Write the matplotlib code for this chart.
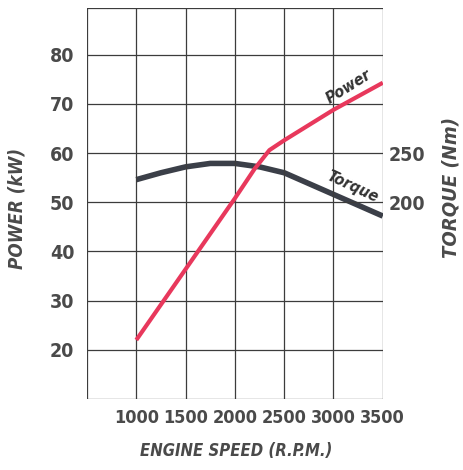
import matplotlib.pyplot as plt

# Engine curves
rpm_power = [1000, 1500, 2000, 2200, 2350, 2500, 3000, 3500]
power_kw = [22, 36.4, 50.8, 56.8, 60.6, 62.6, 68.8, 74.3]

rpm_torque = [1000, 1250, 1500, 1750, 2000, 2250, 2500, 2750, 3000, 3250, 3500]
torque_nm = [223, 230, 236, 239.5, 239.5, 236, 230, 219, 208, 197, 186]

x_ticks = [1000, 1500, 2000, 2500, 3000, 3500]
power_ticks = [20, 30, 40, 50, 60, 70, 80]
torque_ticks = [200, 250]

txt = '#4a4a4a'
grid_c = '#3c3c3c'
plt.rcParams['font.family'] = ['DejaVu Sans']
plt.rcParams['font.stretch'] = 'condensed'

fig = plt.figure(figsize=(4.64, 4.70), dpi=100)
ax = fig.add_axes([0.1875, 0.151, 0.6375, 0.832])
ax.set_xlim(500, 3500)
ax.set_ylim(10, 89.5)

# grid lines on every 500 rpm / 10 kW
for xv in [500] + x_ticks:
    ax.axvline(xv, color=grid_c, lw=0.9, zorder=1)
for yv in [10] + power_ticks + [89.5]:
    ax.axhline(yv, color=grid_c, lw=0.9, zorder=1)
for s in ax.spines.values():
    s.set_visible(False)

ax.set_xticks(x_ticks)
ax.set_yticks(power_ticks)
ax.tick_params(length=0, labelsize=14, labelcolor=txt, pad=9)
ax.tick_params(axis='x', labelsize=13, pad=7)
for lab in ax.get_xticklabels() + ax.get_yticklabels():
    lab.set_fontweight('bold')

# torque axis: 200 Nm lines up with 50 kW, 250 Nm with 60 kW
ax2 = ax.twinx()
ax2.set_ylim(0, 397.5)
ax2.set_yticks(torque_ticks)
ax2.tick_params(length=0, labelsize=14, labelcolor=txt, pad=4)
for lab in ax2.get_yticklabels():
    lab.set_fontweight('bold')
for s in ax2.spines.values():
    s.set_visible(False)

ax2.plot(rpm_torque, torque_nm, color='#3b3f48', lw=4, solid_capstyle='butt', zorder=3)
ax.plot(rpm_power, power_kw, color='#e8385c', lw=3, solid_capstyle='butt', zorder=4)
ax.set_zorder(ax2.get_zorder() + 1)
ax.patch.set_visible(False)

ax.text(3150, 73.4, 'Power', rotation=32, ha='center', va='center',
        fontsize=11.5, fontweight='bold', style='italic', color='#333333')
ax.text(3195, 53.2, 'Torque', rotation=-25, ha='center', va='center',
        fontsize=11.5, fontweight='bold', style='italic', color='#333333')

ax.set_xlabel('ENGINE SPEED (R.P.M.)', fontsize=12, fontweight='bold',
              style='italic', color=txt)
ax.xaxis.set_label_coords(0.506, -0.11)
ax.set_ylabel('POWER (kW)', fontsize=13.5, fontweight='bold',
              style='italic', color=txt)
ax.yaxis.set_label_coords(-0.203, 0.488)
ax2.set_ylabel('TORQUE (Nm)', fontsize=14.5, fontweight='bold',
               style='italic', color=txt)
ax2.yaxis.set_label_coords(1.2, 0.542)

fig.savefig('out.png', dpi=100)
